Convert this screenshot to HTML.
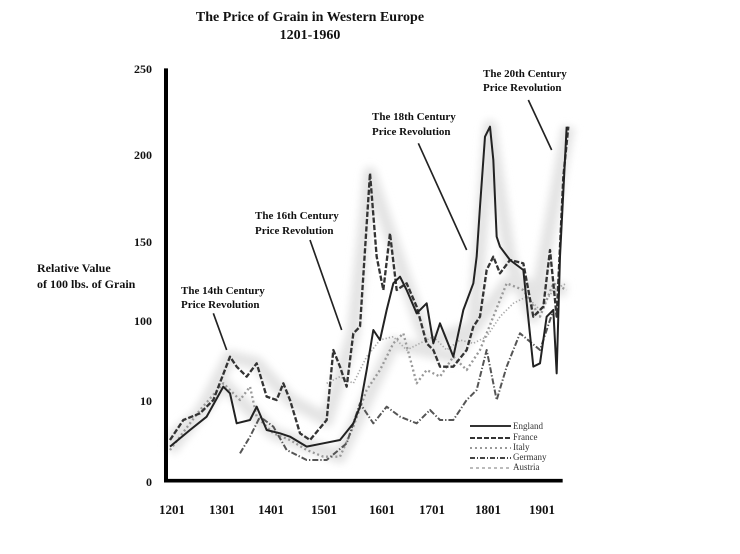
<!DOCTYPE html>
<html><head><meta charset="utf-8"><style>
html,body{margin:0;padding:0;background:#fff;}
svg{display:block;font-family:"Liberation Serif",serif;}
.b{font-weight:bold;fill:#111;}
</style></head><body>
<svg width="740" height="554" viewBox="0 0 740 554" xmlns="http://www.w3.org/2000/svg">
<defs><filter id="bl"><feGaussianBlur stdDeviation="12"/></filter></defs>
<rect width="740" height="554" fill="#fff"/>
<text class="b" x="310" y="21" font-size="14" text-anchor="middle">The Price of Grain in Western Europe</text>
<text class="b" x="310" y="39" font-size="14" text-anchor="middle">1201-1960</text>
<g class="b" font-size="12" text-anchor="end">
<text x="152" y="73">250</text><text x="152" y="159">200</text><text x="152" y="246">150</text>
<text x="152" y="325">100</text><text x="152" y="405">10</text><text x="152" y="486">0</text>
</g>
<text class="b" x="37" y="272" font-size="12">Relative Value</text>
<text class="b" x="37" y="288" font-size="12">of 100 lbs. of Grain</text>
<g class="b" font-size="13" text-anchor="middle">
<text x="172" y="514">1201</text><text x="222" y="514">1301</text><text x="271" y="514">1401</text>
<text x="324" y="514">1501</text><text x="382" y="514">1601</text><text x="432" y="514">1701</text>
<text x="488" y="514">1801</text><text x="542" y="514">1901</text>
</g>
<g class="b" font-size="11">
<text x="181" y="294">The 14th Century</text><text x="181" y="308">Price Revolution</text>
<text x="255" y="219">The 16th Century</text><text x="255" y="234">Price Revolution</text>
<text x="372" y="120">The 18th Century</text><text x="372" y="135">Price Revolution</text>
<text x="483" y="77">The 20th Century</text><text x="483" y="91">Price Revolution</text>
</g>
<g transform="translate(140,50) scale(0.33333)" fill="none" stroke-linejoin="round">
<g stroke="#e4e4e4" stroke-width="40" filter="url(#bl)">
<polyline points="90,1170 180,1090 270,920 350,940 450,1050 560,1110 640,850 690,370 750,550 860,880 1000,830 1050,230 1110,630 1180,800 1285,230"/>
<polyline points="90,1200 250,1000 400,1150 600,1220 760,880 940,920 1100,700 1280,720"/>
</g>
<polyline stroke="#aaa" stroke-width="5" stroke-dasharray="4 6" points="560,1000 600,980 640,1000 680,920 720,870 760,860 800,900 840,880 880,860 920,900 960,870 1000,880 1040,860 1080,800 1120,760 1160,740 1200,780 1240,720 1280,700"/>
<polyline stroke="#999" stroke-width="7" stroke-dasharray="6 8" points="90,1200 180,1080 250,1000 300,1050 330,1010 350,1100 400,1150 450,1170 500,1200 550,1220 600,1220 640,1130 680,1020 720,960 760,880 790,850 830,1000 860,960 900,980 940,920 980,960 1020,900 1060,800 1100,700 1150,720 1200,800 1240,700 1280,720"/>
<polyline stroke="#555" stroke-width="6" stroke-dasharray="18 6 4 6" points="300,1210 330,1160 360,1100 400,1130 440,1200 500,1230 560,1230 620,1180 660,1060 700,1120 740,1070 780,1100 830,1120 870,1080 900,1110 940,1110 980,1050 1010,1020 1040,900 1070,1050 1100,950 1140,850 1200,900 1240,780"/>
<polyline stroke="#333" stroke-width="7" stroke-dasharray="16 6" points="90,1170 130,1110 180,1090 220,1050 270,920 290,950 320,980 350,940 380,1040 410,1050 430,1000 450,1050 480,1150 510,1170 560,1110 580,900 600,950 620,1010 640,850 660,830 690,370 710,620 730,720 750,550 770,720 800,700 830,770 860,880 880,900 900,950 940,950 980,900 1000,830 1020,800 1040,660 1060,620 1080,670 1110,630 1150,640 1180,800 1210,770 1230,600 1250,800 1270,380 1285,230"/>
<polyline stroke="#222" stroke-width="6" points="90,1190 150,1140 200,1100 250,1010 270,1030 290,1120 330,1110 350,1070 380,1140 420,1150 450,1160 500,1190 550,1180 600,1170 640,1120 660,1070 680,960 700,840 720,870 740,780 760,700 780,680 800,720 830,790 860,760 880,880 900,820 940,920 970,780 1000,700 1010,620 1020,470 1035,260 1050,230 1060,330 1070,560 1080,590 1110,630 1150,660 1180,950 1200,940 1220,800 1240,780 1250,970 1260,620 1280,230"/>
<g stroke="#222" stroke-width="5">
<line x1="220" y1="790" x2="260" y2="900"/>
<line x1="510" y1="570" x2="605" y2="840"/>
<line x1="835" y1="280" x2="980" y2="600"/>
<line x1="1165" y1="150" x2="1235" y2="300"/>
</g>
<line x1="78" y1="55" x2="78" y2="1295" stroke="#000" stroke-width="12"/>
<line x1="72" y1="1292" x2="1268" y2="1292" stroke="#000" stroke-width="11"/>
</g>
<g stroke-width="2">
<line x1="470" y1="426" x2="511" y2="426" stroke="#333"/>
<line x1="470" y1="438" x2="511" y2="438" stroke="#333" stroke-dasharray="5 2"/>
<line x1="470" y1="448" x2="511" y2="448" stroke="#999" stroke-dasharray="2 3"/>
<line x1="470" y1="458" x2="511" y2="458" stroke="#444" stroke-dasharray="5 2 1 2"/>
<line x1="470" y1="468" x2="511" y2="468" stroke="#bbb" stroke-dasharray="3 3"/>
</g>
<g font-size="9" fill="#333">
<text x="513" y="429">England</text><text x="513" y="440">France</text><text x="513" y="450">Italy</text>
<text x="513" y="460">Germany</text><text x="513" y="470">Austria</text>
</g>
</svg>
</body></html>
